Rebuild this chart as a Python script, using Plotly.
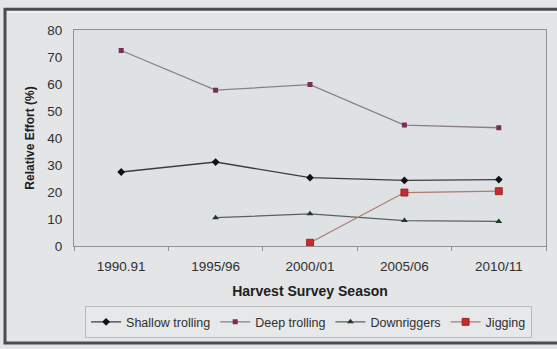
import plotly.graph_objects as go

seasons = ["1990.91", "1995/96", "2000/01", "2005/06", "2010/11"]
shallow_trolling = [27.4, 31.1, 25.3, 24.3, 24.6]
deep_trolling = [72.4, 57.7, 59.8, 44.8, 43.8]
downriggers = [None, 10.5, 11.9, 9.4, 9.1]
jigging = [None, None, 1.2, 19.8, 20.3]

FONT = "Liberation Sans, Arial, sans-serif"

fig = go.Figure()
fig.add_trace(go.Scatter(
    x=seasons, y=shallow_trolling, name="Shallow trolling", mode="lines+markers",
    line=dict(color="#3c3c3c", width=1.3),
    marker=dict(symbol="diamond", size=6, color="#111111"),
))
fig.add_trace(go.Scatter(
    x=seasons, y=deep_trolling, name="Deep trolling", mode="lines+markers",
    line=dict(color="#8a7f88", width=1.3),
    marker=dict(symbol="square", size=5, color="#7a2c58"),
))
fig.add_trace(go.Scatter(
    x=seasons, y=downriggers, name="Downriggers", mode="lines+markers",
    line=dict(color="#5a6060", width=1.3),
    marker=dict(symbol="triangle-up", size=6, color="#1f3a22"),
))
fig.add_trace(go.Scatter(
    x=seasons, y=jigging, name="Jigging", mode="lines+markers",
    line=dict(color="#b07a6c", width=1.3),
    marker=dict(symbol="square", size=7, color="#cc2a2a",
                line=dict(color="#8a1a1a", width=0.8)),
))

# outer chart frame
fig.add_shape(type="rect", xref="paper", yref="paper",
              x0=-69/472, x1=1 + 20/472, y0=-(346 - 248)/218, y1=1 + (30 - 9)/218,
              line=dict(color="#4a4c50", width=3), fillcolor="rgba(0,0,0,0)", layer="below")
fig.add_shape(type="line", xref="paper", yref="paper",
              x0=-66/472, x1=1 + 20/472, y0=1 + (30 - 11.5)/218, y1=1 + (30 - 11.5)/218,
              line=dict(color="#f4f5f6", width=1.5), layer="below")

fig.update_layout(
    width=557, height=349,
    margin=dict(l=74, r=11, t=30, b=101),
    paper_bgcolor="#e3e5e7",
    plot_bgcolor="#dfe2e5",
    font=dict(family=FONT, size=12, color="#303030"),
    showlegend=True,
    legend=dict(
        orientation="h", x=0.497, y=-0.353, xanchor="center", yanchor="middle",
        bgcolor="#e6e8ea", bordercolor="#b8babc", borderwidth=1,
        font=dict(family=FONT, size=12.5, color="#303030"),
        itemwidth=30, tracegroupgap=0,
    ),
    xaxis=dict(
        type="category", range=[-0.5, 4.5], showgrid=False, zeroline=False,
        showline=True, linecolor="#8e9296", linewidth=1, mirror=True,
        ticks="outside", ticklen=4, tickcolor="#8e9296",
        tickson="boundaries", ticklabelstandoff=8,
        tickfont=dict(family=FONT, size=13.5, color="#303030"),
        title=dict(text="<b>Harvest Survey Season</b>", standoff=12,
                   font=dict(family=FONT, size=14, color="#202020")),
    ),
    yaxis=dict(
        range=[0, 80], dtick=10, showgrid=False, zeroline=False,
        showline=True, linecolor="#8e9296", linewidth=1, mirror=True,
        ticks="", ticklabelstandoff=8,
        tickfont=dict(family=FONT, size=13.5, color="#303030"),
        title=dict(text="<b>Relative Effort (%)</b>", standoff=10,
                   font=dict(family=FONT, size=12, color="#202020")),
    ),
)

fig.write_html("out.html")
